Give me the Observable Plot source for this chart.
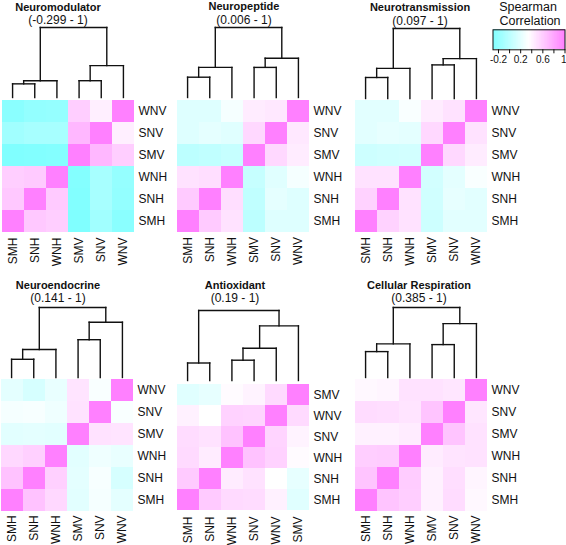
<!DOCTYPE html>
<html><head><meta charset="utf-8">
<script src="https://cdn.jsdelivr.net/npm/d3@7"></script>
<script src="https://cdn.jsdelivr.net/npm/@observablehq/plot@0.6"></script>
<style>
body{margin:0;background:#fff;}
#root{position:relative;width:566px;height:545px;overflow:hidden;font-family:"Liberation Sans",Arial,Helvetica,sans-serif;color:#111;}
#root svg{position:absolute;overflow:visible;background:transparent;}
.t{position:absolute;transform:translate(-50%,-50%);white-space:nowrap;}
.title{font-size:11px;font-weight:bold;}
.sub{font-size:12px;}
.leg{font-size:12.5px;}
</style></head>
<body><div id="root"></div>
<script>
// ---------- data ----------
const samples = ["SMH","SNH","WNH","SMV","SNV","WNV"];
const panelTitles = ["Neuromodulator","Neuropeptide","Neurotransmission","Neuroendocrine","Antioxidant","Cellular Respiration"];
const panelRanges = ["(-0.299 - 1)","(0.006 - 1)","(0.097 - 1)","(0.141 - 1)","(0.19 - 1)","(0.385 - 1)"];
const legendTicks = [-0.2, 0, 0.2, 0.4, 0.6, 0.8, 1];
const legendLabels = ["-0.2", "", "0.2", "", "0.6", "", "1"];

// column (leaf) order of each panel's dendrogram
const orderDefault = ["SMH","SNH","WNH","SMV","SNV","WNV"];
const orderAntioxidant = ["SMH","SNH","WNH","SNV","WNV","SMV"];

// Spearman correlation matrices, rows/cols in `samples` order
const neuromodulator = [
  [1, 0.63, 0.6, -0.299, -0.13, -0.25],
  [0.63, 1, 0.62, -0.29, -0.1, -0.2],
  [0.6, 0.62, 1, -0.28, -0.1, -0.19],
  [-0.299, -0.29, -0.28, 1, 0.72, 0.6],
  [-0.13, -0.1, -0.1, 0.72, 1, 0.43],
  [-0.25, -0.2, -0.19, 0.6, 0.43, 1]
];
const neuropeptide = [
  [1, 0.62, 0.5, 0.006, 0.18, 0.18],
  [0.62, 1, 0.52, 0.03, 0.22, 0.18],
  [0.5, 0.52, 1, 0.06, 0.19, 0.3],
  [0.006, 0.03, 0.06, 1, 0.55, 0.45],
  [0.18, 0.22, 0.19, 0.55, 1, 0.47],
  [0.18, 0.18, 0.3, 0.45, 0.47, 1]
];
const neurotransmission = [
  [1, 0.58, 0.5, 0.097, 0.2, 0.2],
  [0.58, 1, 0.5, 0.11, 0.23, 0.2],
  [0.5, 0.5, 1, 0.12, 0.21, 0.32],
  [0.097, 0.11, 0.12, 1, 0.55, 0.45],
  [0.2, 0.23, 0.21, 0.55, 1, 0.5],
  [0.2, 0.2, 0.32, 0.45, 0.5, 1]
];
const neuroendocrine = [
  [1, 0.66, 0.55, 0.2, 0.3, 0.21],
  [0.66, 1, 0.59, 0.21, 0.31, 0.141],
  [0.55, 0.59, 1, 0.2, 0.27, 0.24],
  [0.2, 0.21, 0.2, 1, 0.5, 0.49],
  [0.3, 0.31, 0.27, 0.5, 1, 0.32],
  [0.21, 0.141, 0.24, 0.49, 0.32, 1]
];
const antioxidant = [
  [1, 0.62, 0.54, 0.19, 0.53, 0.42],
  [0.62, 1, 0.45, 0.23, 0.5, 0.35],
  [0.54, 0.45, 1, 0.37, 0.66, 0.58],
  [0.19, 0.23, 0.37, 1, 0.41, 0.54],
  [0.53, 0.5, 0.66, 0.41, 1, 0.57],
  [0.42, 0.35, 0.58, 0.54, 0.57, 1]
];
const cellularRespiration = [
  [1, 0.65, 0.6, 0.42, 0.53, 0.385],
  [0.65, 1, 0.61, 0.42, 0.52, 0.4],
  [0.6, 0.61, 1, 0.45, 0.49, 0.5],
  [0.42, 0.42, 0.45, 1, 0.65, 0.5],
  [0.53, 0.52, 0.49, 0.65, 1, 0.48],
  [0.385, 0.4, 0.5, 0.5, 0.48, 1]
];

// dendrogram merges: [childA, childB, relative height]; numbers refer to earlier merges
const treeNeuromodulator = [["SMH","SNH",0.195],[0,"WNH",0.24],["SMV","SNV",0.24],[2,"WNV",0.455],[1,3,1]];
const treeNeuropeptide = [["SMH","SNH",0.29],[0,"WNH",0.43],["SMV","SNV",0.43],[2,"WNV",0.56],[1,3,1]];
const treeNeurotransmission = [["SMH","SNH",0.30],[0,"WNH",0.43],["SMV","SNV",0.48],[2,"WNV",0.57],[1,3,1]];
const treeNeuroendocrine = [["SMH","SNH",0.26],[0,"WNH",0.40],["SMV","SNV",0.54],[2,"WNV",0.79],[1,3,1]];
const treeAntioxidant = [["SMH","SNH",0.25],["WNH","SNV",0.29],[1,"WNV",0.46],[2,"SMV",0.78],[0,3,1]];
const treeCellularRespiration = [["SMH","SNH",0.37],[0,"WNH",0.48],["SMV","SNV",0.47],[2,"WNV",0.77],[1,3,1]];

// ---------- layout (not data) ----------
const matrices = [neuromodulator, neuropeptide, neurotransmission, neuroendocrine, antioxidant, cellularRespiration];
const trees = [treeNeuromodulator, treeNeuropeptide, treeNeurotransmission, treeNeuroendocrine, treeAntioxidant, treeCellularRespiration];
const orders = [orderDefault, orderDefault, orderDefault, orderDefault, orderAntioxidant, orderDefault];
const layout = [
  {x: 0.5, y: 97.7, h: 135.6, tx: 58, ty: 6.5, sy: 20},
  {x: 175.6, y: 98.3, h: 135, tx: 244, ty: 6, sy: 19.5},
  {x: 354, y: 99.3, h: 134, tx: 420, ty: 7, sy: 20.5},
  {x: 0, y: 378.3, h: 133.4, tx: 58, ty: 285, sy: 298.3},
  {x: 175.7, y: 380.7, h: 131.5, tx: 235, ty: 285, sy: 298.3},
  {x: 354, y: 378.3, h: 133.4, tx: 419, ty: 285, sy: 298}
];
const HW = 133; // heatmap width

const allVals = matrices.flat(2);
const cmin = d3.min(allVals), cmax = d3.max(allVals);
const interp = d3.piecewise(d3.interpolateRgb, ["#80ffff", "#ffffff", "#ff80ff"]);
const colorScale = {type: "linear", domain: [cmin, cmax], interpolate: interp};
const font = '"Liberation Sans", Arial, Helvetica, sans-serif';

const root = document.getElementById("root");
function place(el, x, y) { el.style.left = x + "px"; el.style.top = y + "px"; root.appendChild(el); }
function text(cls, str, x, y) {
  const d = document.createElement("div");
  d.className = "t " + cls; d.textContent = str;
  d.style.left = x + "px"; d.style.top = y + "px";
  root.appendChild(d);
}

function dendroSegments(merges, order) {
  const pos = new Map(order.map((d, i) => [d, i + 0.5]));
  const nodes = [];
  const get = c => typeof c === "number" ? nodes[c] : {x: pos.get(c), h: 0};
  const segs = [];
  for (const [a, b, h] of merges) {
    const A = get(a), B = get(b);
    segs.push({x1: A.x, y1: A.h, x2: A.x, y2: h});
    segs.push({x1: B.x, y1: B.h, x2: B.x, y2: h});
    segs.push({x1: A.x, y1: h, x2: B.x, y2: h});
    nodes.push({x: (A.x + B.x) / 2, h});
  }
  return segs;
}

matrices.forEach((M, p) => {
  const L = layout[p];
  const order = orders[p];
  const rowsTop = order.slice().reverse();
  const cells = [];
  samples.forEach((r, i) => samples.forEach((c, j) => cells.push({row: r, col: c, value: M[i][j]})));

  const heat = Plot.plot({
    width: HW + 40, height: L.h + 36,
    marginLeft: 0, marginRight: 40, marginTop: 0, marginBottom: 36,
    style: {fontSize: "12px", fontFamily: font, color: "#111", background: "transparent"},
    x: {domain: order, padding: 0, axis: "bottom", tickRotate: -90, tickSize: 0, tickPadding: 3.5, label: null},
    y: {domain: rowsTop, padding: 0, axis: "right", tickSize: 0, tickPadding: 4, label: null},
    color: colorScale,
    marks: [
      Plot.cell(cells, {x: "col", y: "row", fill: "value", inset: 0, shapeRendering: "crispEdges"})
    ]
  });
  place(heat, L.x, L.y);

  const segs = dendroSegments(trees[p], order);
  const dend = Plot.plot({
    width: HW, height: 76,
    marginLeft: 0, marginRight: 0, marginTop: 5, marginBottom: 1,
    style: {background: "transparent"},
    x: {type: "linear", domain: [0, order.length], axis: null},
    y: {type: "linear", domain: [0, 1], axis: null},
    marks: [
      Plot.link(segs, {x1: "x1", y1: "y1", x2: "x2", y2: "y2", stroke: "#111", strokeWidth: 1.4, strokeLinecap: "square"})
    ]
  });
  place(dend, L.x, L.y - 76);

  text("title", panelTitles[p], L.tx, L.ty);
  text("sub", panelRanges[p], L.tx, L.sy);
});

// ---------- legend ----------
const steps = d3.range(0, 101).map(i => cmin + (cmax - cmin) * i / 100);
const legendRects = steps.slice(0, -1).map((v, i) => ({x1: v, x2: steps[i + 1], v: (v + steps[i + 1]) / 2}));
const lastTick = legendTicks[legendTicks.length - 1];
const legend = Plot.plot({
  width: 81, height: 50,
  marginLeft: 7.5, marginRight: 1.5, marginTop: 4.3, marginBottom: 25.7,
  style: {fontSize: "10px", fontFamily: font, color: "#111", background: "transparent"},
  x: {type: "linear", domain: [cmin, cmax]},
  color: colorScale,
  marks: [
    Plot.rect(legendRects, {x1: "x1", x2: "x2", fill: "v", shapeRendering: "crispEdges"}),
    Plot.frame({stroke: "#111", strokeWidth: 1}),
    Plot.axisX({ticks: legendTicks, tickSize: 4, tickPadding: 2, label: null,
      tickFormat: d => d === lastTick ? "" : (legendLabels[legendTicks.indexOf(d)] ?? "")}),
    Plot.axisX({ticks: [lastTick], tickSize: 0, tickPadding: 6, label: null, textAnchor: "end", dx: 1.5,
      tickFormat: d => legendLabels[legendTicks.indexOf(d)]})
  ]
});
place(legend, 485, 25);
text("leg", "Spearman", 528, 6.5);
text("leg", "Correlation", 530, 20.5);
</script>
</body></html>
